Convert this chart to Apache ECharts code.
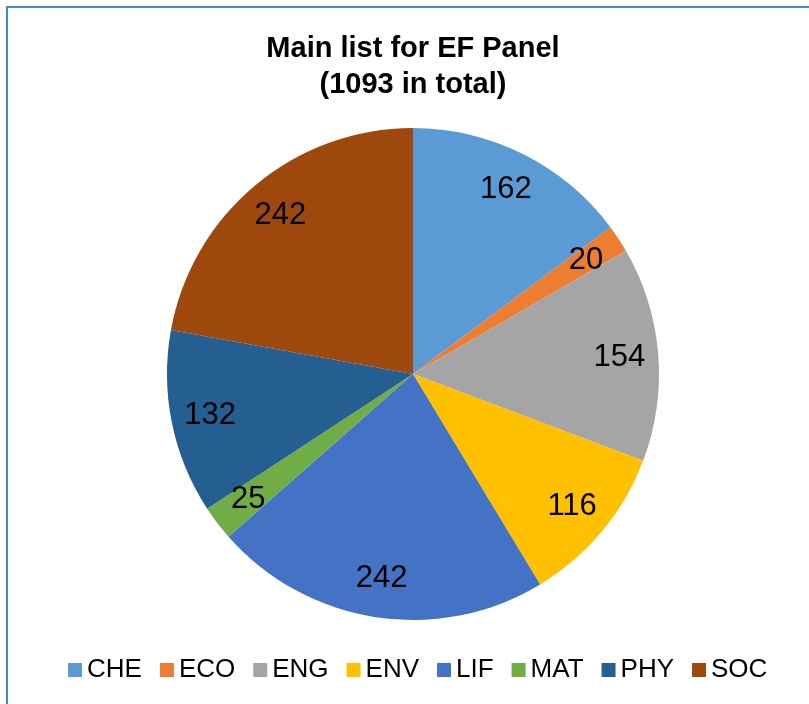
<!DOCTYPE html>
<html>
<head>
<meta charset="utf-8">
<script src="https://cdn.jsdelivr.net/npm/echarts@6/dist/echarts.min.js"></script>
<style>
html, body { margin: 0; padding: 0; background: #fff; }
#main { width: 809px; height: 704px; }
</style>
</head>
<body>
<div id="main"></div>
<script>
// 各学科数量
var categories = [ 'CHE', 'ECO', 'ENG', 'ENV', 'LIF', 'MAT', 'PHY', 'SOC' ];
var values = [ 162, 20, 154, 116, 242, 25, 132, 242 ];
var colors = [ '#5B9BD5', '#ED7D31', '#A5A5A5', '#FFC000', '#4472C4', '#70AD47', '#255E91', '#9E480E' ];

var pieData = categories.map(function (name, i) {
	return { name : name, value : values[i] };
});

var myChart = echarts.init(document.getElementById('main'));
var option = {
	color : colors,
	animation : false,
	title : {
		text : 'Main list for EF Panel\n(1093 in total)',
		left : 408,
		textAlign : 'center',
		top : 26,
		textStyle : {
			fontFamily : 'Liberation Sans',
			fontSize : 29,
			fontWeight : 'bold',
			lineHeight : 36,
			color : '#000'
		}
	},
	legend : {
		data : categories,
		bottom : 16,
		left : 63,
		icon : 'rect',
		itemWidth : 14,
		itemHeight : 14,
		itemGap : 18,
		textStyle : {
			fontFamily : 'Liberation Sans',
			fontSize : 26,
			color : '#000'
		}
	},
	graphic : [ {
		type : 'polyline',
		shape : { points : [ [ 7, 704 ], [ 7, 7 ], [ 809, 7 ] ] },
		style : { stroke : '#3A8DD8', lineWidth : 2, fill : null },
		silent : true
	} ],
	series : [ {
		// 实际饼图
		name : 'EF',
		type : 'pie',
		center : [ 413, 374 ],
		radius : [ 0, 246 ],
		startAngle : 90,
		clockwise : true,
		label : { show : false },
		labelLine : { show : false },
		itemStyle : { borderWidth : 0 },
		emphasis : { disabled : true },
		data : pieData
	}, {
		// 标签层（透明），使数字靠近外缘
		name : 'EF-label',
		type : 'pie',
		center : [ 413, 374 ],
		radius : [ 162, 246 ],
		startAngle : 90,
		clockwise : true,
		silent : true,
		itemStyle : { color : 'rgba(0,0,0,0)', borderWidth : 0 },
		label : {
			show : true,
			position : 'inside',
			formatter : '{c}',
			fontFamily : 'Liberation Sans',
			fontSize : 31,
			color : '#000'
		},
		labelLine : { show : false },
		emphasis : { disabled : true },
		data : pieData
	} ]
};
myChart.setOption(option);
</script>
</body>
</html>
